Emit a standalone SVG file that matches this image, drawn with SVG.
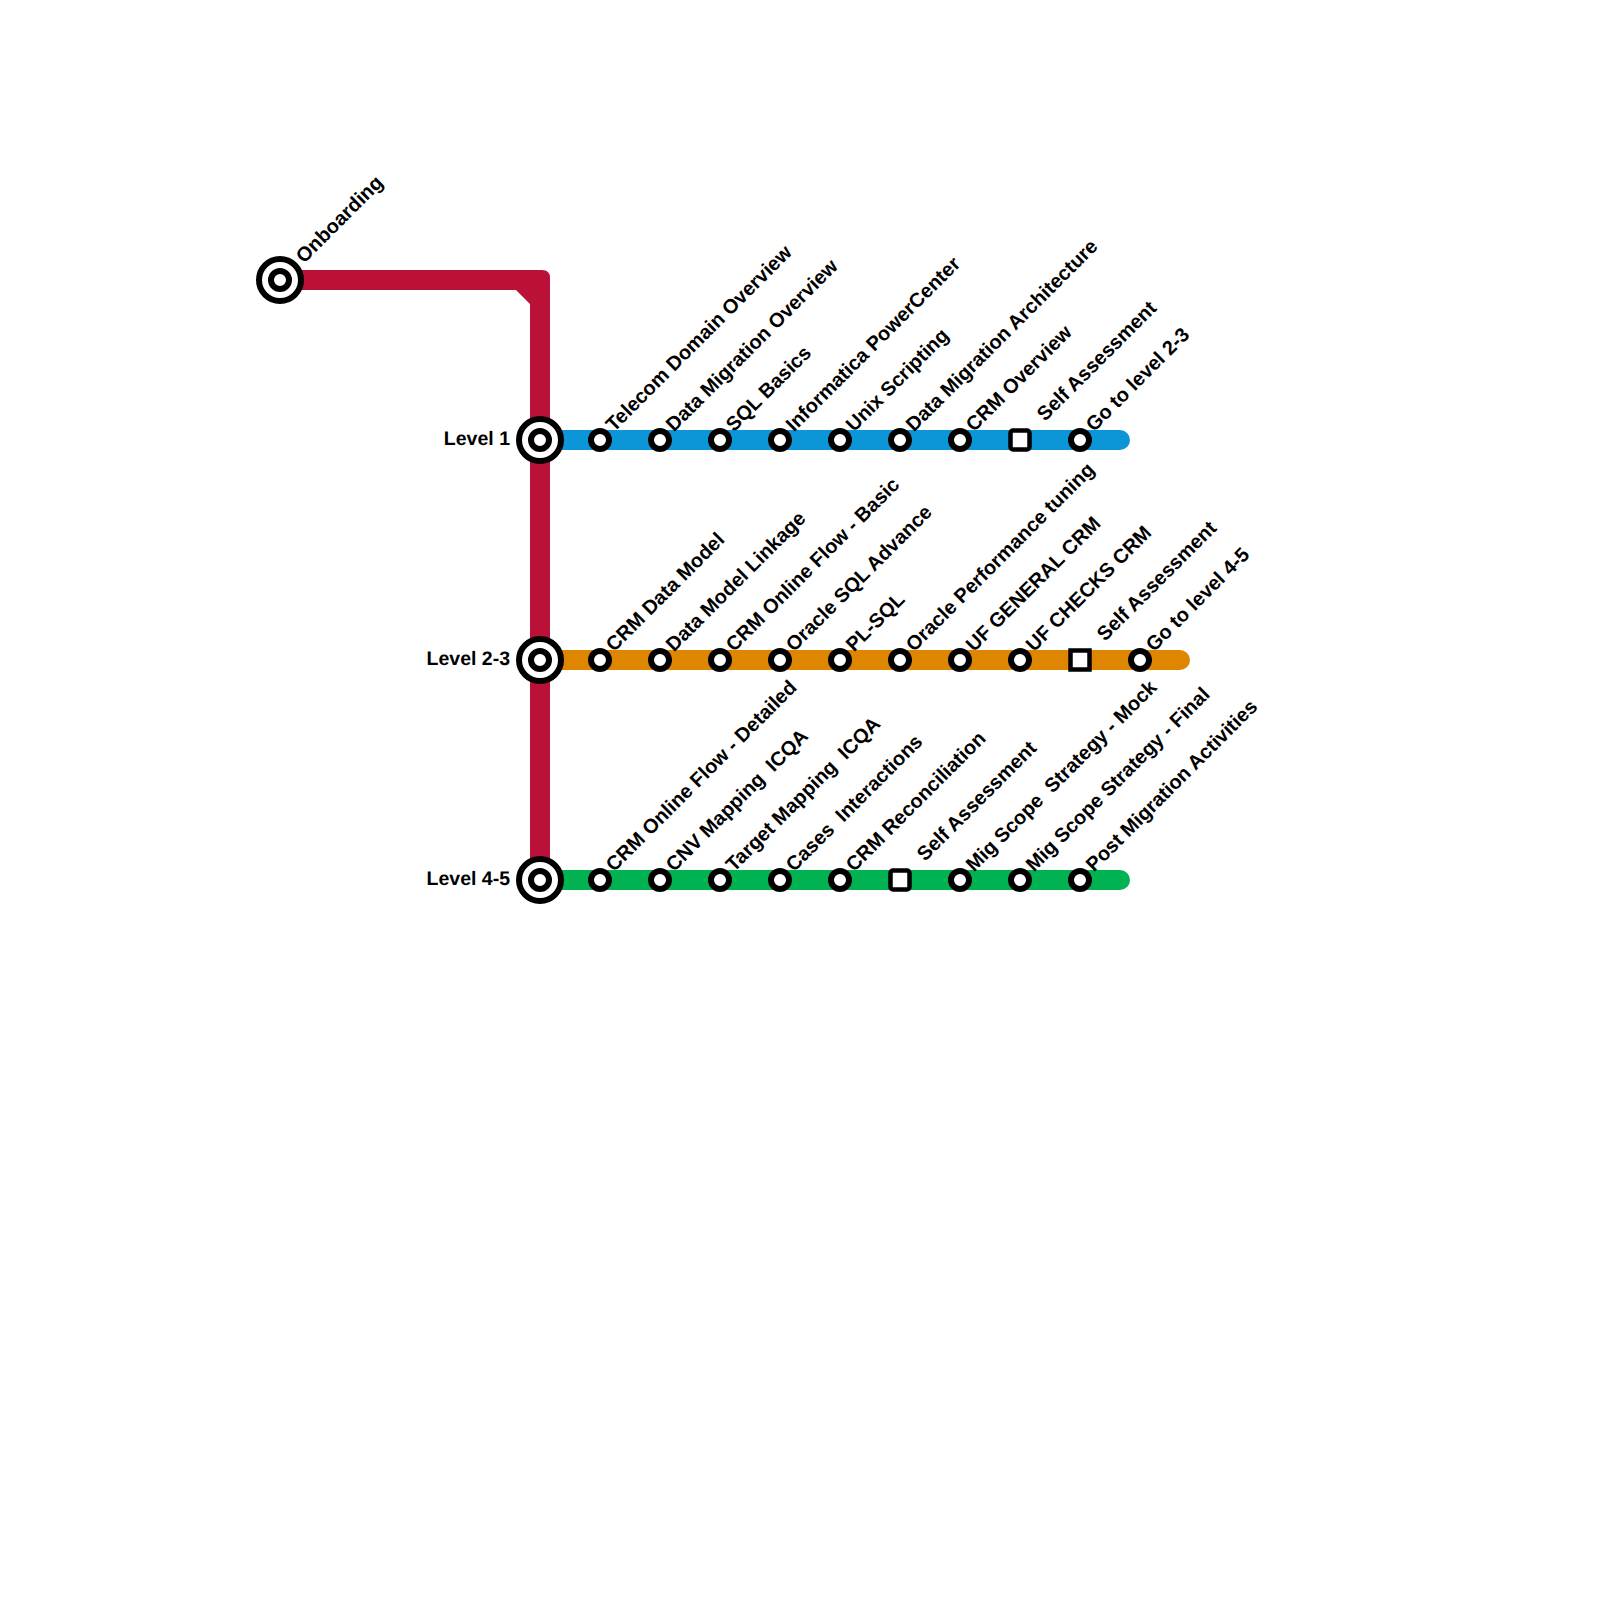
<svg xmlns="http://www.w3.org/2000/svg" width="1600" height="1600" viewBox="0 0 1600 1600">
<style>
text{font-family:"Liberation Sans",Arial,sans-serif;font-weight:700;font-size:20px;fill:#000;text-rendering:geometricPrecision}
.ln{fill:none;stroke-width:20;stroke-linecap:round}
.o{fill:#fff;stroke:#000;stroke-width:6}
.s{fill:#fff;stroke:#000;stroke-width:4.5}
.e{text-anchor:end;font-size:19.5px}
</style>
<rect width="1600" height="1600" fill="#fff"/>
<g id="connectors">
<path id="line-red" d="M280 270H542Q550 270 550 278V880H530V304L516 290H280Z" fill="#bb1138"/>
<path class="ln" stroke="#0c96d8" d="M540 440H1120"/>
<path class="ln" stroke="#df8600" d="M540 660H1180"/>
<path class="ln" stroke="#00b251" d="M540 880H1120"/>
</g>
<defs>
<g id="hub"><circle r="21" class="o"/><circle r="9" class="o"/></g>
<circle id="st" r="9" class="o"/>
<rect id="sq" x="-9.500" y="-9.500" width="19" height="19" class="s"/>
<rect id="sqr" x="-9.500" y="-9.500" width="19" height="19" rx="2.500" class="s"/>
</defs>
<g id="n-onboarding"><use href="#hub" x="280" y="280"/><text transform="translate(304 264) rotate(-45)">Onboarding</text></g>
<g id="n-level1"><use href="#hub" x="540" y="440"/><text class="e" x="510" y="444.500">Level 1</text></g>
<g id="n-level23"><use href="#hub" x="540" y="660"/><text class="e" x="510" y="664.500">Level 2-3</text></g>
<g id="n-level45"><use href="#hub" x="540" y="880"/><text class="e" x="510" y="884.500">Level 4-5</text></g>

<g id="n1-1"><use href="#st" x="600" y="440"/><text transform="translate(614 432.500) rotate(-45)">Telecom Domain Overview</text></g>
<g id="n1-2"><use href="#st" x="660" y="440"/><text transform="translate(674 432.500) rotate(-45)">Data Migration Overview</text></g>
<g id="n1-3"><use href="#st" x="720" y="440"/><text transform="translate(734 432.500) rotate(-45)">SQL Basics</text></g>
<g id="n1-4"><use href="#st" x="780" y="440"/><text transform="translate(794 432.500) rotate(-45)">Informatica PowerCenter</text></g>
<g id="n1-5"><use href="#st" x="840" y="440"/><text transform="translate(854 432.500) rotate(-45)">Unix Scripting</text></g>
<g id="n1-6"><use href="#st" x="900" y="440"/><text transform="translate(914 432.500) rotate(-45)">Data Migration Architecture</text></g>
<g id="n1-7"><use href="#st" x="960" y="440"/><text transform="translate(974 432.500) rotate(-45)">CRM Overview</text></g>
<g id="n1-8"><use href="#sqr" x="1020" y="440"/><text transform="translate(1045 422) rotate(-45)">Self Assessment</text></g>
<g id="n1-9"><use href="#st" x="1080" y="440"/><text transform="translate(1094 432.500) rotate(-45)">Go to level 2-3</text></g>

<g id="n2-1"><use href="#st" x="600" y="660"/><text transform="translate(614 652.500) rotate(-45)">CRM Data Model</text></g>
<g id="n2-2"><use href="#st" x="660" y="660"/><text transform="translate(674 652.500) rotate(-45)">Data Model Linkage</text></g>
<g id="n2-3"><use href="#st" x="720" y="660"/><text transform="translate(734 652.500) rotate(-45)">CRM Online Flow - Basic</text></g>
<g id="n2-4"><use href="#st" x="780" y="660"/><text transform="translate(794 652.500) rotate(-45)">Oracle SQL Advance</text></g>
<g id="n2-5"><use href="#st" x="840" y="660"/><text transform="translate(854 652.500) rotate(-45)">PL-SQL</text></g>
<g id="n2-6"><use href="#st" x="900" y="660"/><text transform="translate(914 652.500) rotate(-45)">Oracle Performance tuning</text></g>
<g id="n2-7"><use href="#st" x="960" y="660"/><text transform="translate(974 652.500) rotate(-45)">UF GENERAL CRM</text></g>
<g id="n2-8"><use href="#st" x="1020" y="660"/><text transform="translate(1034 652.500) rotate(-45)">UF CHECKS CRM</text></g>
<g id="n2-9"><use href="#sq" x="1080" y="660"/><text transform="translate(1105 642) rotate(-45)">Self Assessment</text></g>
<g id="n2-10"><use href="#st" x="1140" y="660"/><text transform="translate(1154 652.500) rotate(-45)">Go to level 4-5</text></g>

<g id="n3-1"><use href="#st" x="600" y="880"/><text transform="translate(614 872.500) rotate(-45)">CRM Online Flow - Detailed</text></g>
<g id="n3-2"><use href="#st" x="660" y="880"/><text transform="translate(674 872.500) rotate(-45)" xml:space="preserve">CNV Mapping  ICQA</text></g>
<g id="n3-3"><use href="#st" x="720" y="880"/><text transform="translate(734 872.500) rotate(-45)" xml:space="preserve">Target Mapping  ICQA</text></g>
<g id="n3-4"><use href="#st" x="780" y="880"/><text transform="translate(794 872.500) rotate(-45)" xml:space="preserve">Cases  Interactions</text></g>
<g id="n3-5"><use href="#st" x="840" y="880"/><text transform="translate(854 872.500) rotate(-45)">CRM Reconciliation</text></g>
<g id="n3-6"><use href="#sqr" x="900" y="880"/><text transform="translate(925 862) rotate(-45)">Self Assessment</text></g>
<g id="n3-7"><use href="#st" x="960" y="880"/><text transform="translate(974 872.500) rotate(-45)" xml:space="preserve">Mig Scope  Strategy - Mock</text></g>
<g id="n3-8"><use href="#st" x="1020" y="880"/><text transform="translate(1034 872.500) rotate(-45)">Mig Scope Strategy - Final</text></g>
<g id="n3-9"><use href="#st" x="1080" y="880"/><text transform="translate(1094 872.500) rotate(-45)">Post Migration Activities</text></g>
</svg>
